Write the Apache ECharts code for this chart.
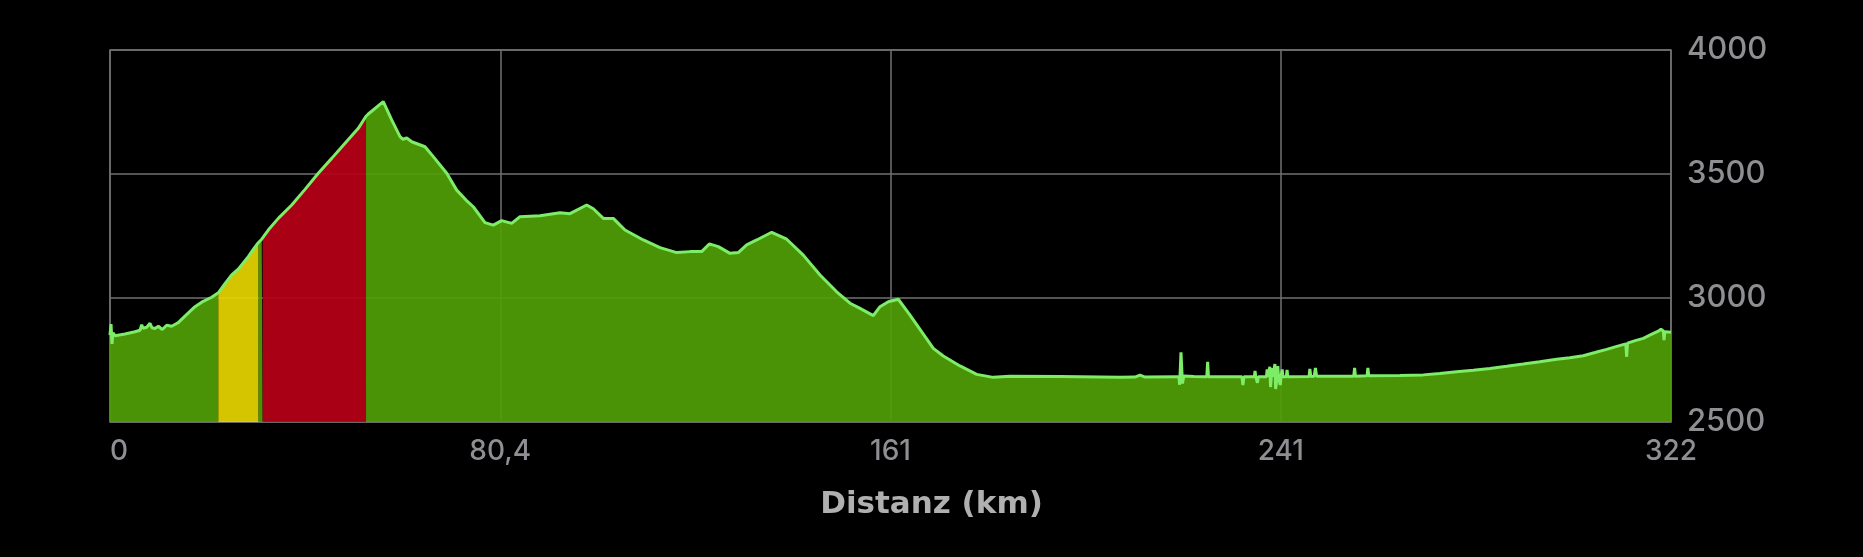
<!DOCTYPE html>
<html>
<head>
<meta charset="utf-8">
<script src="https://cdn.jsdelivr.net/npm/echarts@6/dist/echarts.min.js"></script>
<style>
html,body{margin:0;padding:0;background:#000;}
#chart{width:1863px;height:557px;}
</style>
</head>
<body>
<div id="chart"></div>
<script>
// Distance along route (km)
const distKm = [
  0, 0.21, 0.41, 0.62, 1.03, 3.09, 5.15, 6.19, 6.54, 6.80, 7.57, 8.25, 8.66, 9.28, 9.96, 10.78, 11.69, 12.72, 14.02,
  15.46, 17.53, 18.91, 20.97, 22.33, 23.71, 25.09, 26.45, 28.52, 29.69, 30.58, 31.28, 31.48, 32.64, 34.70, 37.47,
  40.21, 42.95, 45.71, 48.46, 51.20, 52.79, 53.26, 56.35, 58.08, 59.80, 60.42, 61.18, 62.21, 64.95, 66.66, 69.43,
  71.49, 73.41, 74.91, 77.32, 79.03, 80.76, 82.83, 84.54, 88.66, 92.79, 94.85, 98.29, 99.66, 101.72, 103.78, 105.16,
  106.19, 109.96, 113.41, 116.85, 119.59, 122.00, 123.57, 125.43, 127.84, 129.55, 131.28, 133.35, 136.44, 139.53,
  142.95, 146.40, 149.84, 152.58, 154.65, 157.39, 158.77, 160.48, 162.54, 164.96, 169.76, 171.82, 175.26, 178.71,
  182.13, 185.57, 195.88, 208.26, 211.35, 212.38, 213.41, 219.92,
  220.40, 220.56, 220.83, 221.14, 221.40, 221.66, 223.5,
  226.15, 226.33, 226.50, 230.0,
  233.40, 233.60, 233.80,
  235.95, 236.10, 236.25, 236.45, 236.60, 236.75, 236.90,
  238.45, 238.60, 238.75, 239.00, 239.15, 239.30, 239.45, 239.60, 239.75, 240.05, 240.20, 240.35,
  240.65, 240.80, 240.95, 241.15, 241.30, 241.45, 241.55, 241.70, 241.85, 242.55, 242.70, 242.85,
  247.25, 247.40, 247.60, 248.30, 248.55, 248.80,
  256.45, 256.63, 256.80, 259.20, 259.37, 259.55,
  265.99, 270.79, 274.20, 277.67, 281.10, 284.54, 288.00, 291.41, 294.80, 298.29, 301.00, 303.78,
  306.20, 308.60, 310.70, 312.55, 312.73, 312.90, 314.50, 316.16, 317.70, 319.25, 319.80, 320.28, 320.43, 320.60, 321.87
];
// Elevation (m)
const elevM = [
  2850, 2895, 2815, 2860, 2848, 2855, 2864, 2870, 2892, 2878, 2882, 2898, 2880, 2877, 2886, 2873, 2890, 2886, 2900,
  2927, 2965, 2983, 3003, 3021, 3058, 3093, 3116, 3167, 3200, 3223, 3237, 3240, 3274, 3321, 3375,
  3438, 3503, 3563, 3624, 3684, 3733, 3742, 3792, 3718, 3651, 3640, 3645, 3630, 3610, 3570, 3503,
  3435, 3395, 3368, 3304, 3294, 3312, 3301, 3328, 3332, 3344, 3340, 3375, 3360, 3321, 3321, 3294,
  3274, 3234, 3203, 3183, 3187, 3187, 3218, 3207, 3180, 3183, 3214, 3234, 3265, 3237,
  3173, 3093, 3025, 2979, 2958, 2929, 2965, 2985, 2995, 2931, 2797, 2766, 2726, 2692,
  2680, 2684, 2683, 2680, 2681, 2689, 2681, 2682,
  2682, 2650, 2781, 2655, 2685, 2682, 2683,
  2682, 2743, 2682, 2682,
  2682, 2649, 2682,
  2682, 2706, 2682, 2682, 2658, 2682, 2682,
  2682, 2712, 2682, 2682, 2723, 2641, 2682, 2717, 2682, 2682, 2734, 2633,
  2682, 2725, 2682, 2682, 2649, 2682, 2682, 2712, 2682, 2682, 2710, 2682,
  2683, 2714, 2683, 2684, 2718, 2684,
  2684, 2718, 2684, 2686, 2718, 2686,
  2687, 2690, 2696, 2703, 2709, 2716, 2725, 2734, 2743, 2753, 2759, 2767,
  2780, 2793, 2805, 2815, 2763, 2818, 2828, 2837, 2852, 2866, 2874, 2867, 2830, 2864, 2862
];
// Highlighted climb sections (km)
const zoneStart = [22.33, 31.48];
const zoneEnd = [30.58, 52.79];
// Axis ticks
const xTickValues = [0, 80.4675, 160.935, 241.4025, 321.87];
const xTickLabels = ['0', '80,4', '161', '241', '322'];
const yTicks = [2500, 3000, 3500, 4000];

const zoneFill = ['rgba(231,214,0,0.92)', 'rgba(184,0,24,0.92)'];

const pairs = distKm.map((d, i) => [d, elevM[i]]);
const insideZone = d => zoneStart.some((s, k) => d > s && d < zoneEnd[k]);
const greenData = pairs.map(p => insideZone(p[0]) ? [p[0], '-'] : p);
const zoneSeries = zoneStart.map((s, k) => ({
  type: 'line',
  data: pairs.map(p => (p[0] >= s && p[0] <= zoneEnd[k]) ? p : [p[0], '-']),
  showSymbol: false,
  lineStyle: { width: 0, opacity: 0 },
  areaStyle: { color: zoneFill[k], opacity: 1, origin: 'start' },
  z: 2,
  silent: true
}));

const xInterval = xTickValues[1] - xTickValues[0];
const chart = echarts.init(document.getElementById('chart'), null, { renderer: 'canvas' });
chart.setOption({
  backgroundColor: '#000000',
  animation: false,
  title: {
    text: 'Distanz (km)',
    left: 'center',
    top: 484,
    textStyle: { color: '#b0b0b0', fontSize: 31, fontWeight: 'bold', fontFamily: 'DejaVu Sans' }
  },
  grid: {
    left: 110, right: 192, top: 50, bottom: 135,
    show: true, borderColor: '#707070', borderWidth: 1.5, backgroundColor: 'transparent'
  },
  xAxis: {
    type: 'value',
    min: xTickValues[0],
    max: xTickValues[xTickValues.length - 1],
    interval: xInterval,
    axisLine: { show: false },
    axisTick: { show: false },
    splitLine: { show: true, lineStyle: { color: '#707070', width: 1.5 } },
    axisLabel: {
      color: '#8e8e93', fontSize: 28, fontWeight: 500, fontFamily: 'Inter', margin: 16,
      alignMinLabel: 'left',
      formatter: v => xTickLabels[Math.round(v / xInterval)]
    }
  },
  yAxis: {
    type: 'value',
    position: 'right',
    min: yTicks[0],
    max: yTicks[yTicks.length - 1],
    interval: yTicks[1] - yTicks[0],
    axisLine: { show: false },
    axisTick: { show: false },
    splitLine: { show: true, lineStyle: { color: '#707070', width: 1.5 } },
    axisLabel: { color: '#8e8e93', fontSize: 31, fontWeight: 500, fontFamily: 'Inter', margin: 16, formatter: v => String(v) }
  },
  series: [
    {
      type: 'line',
      data: greenData,
      showSymbol: false,
      lineStyle: { width: 0, opacity: 0 },
      areaStyle: { color: 'rgba(80,159,7,0.92)', opacity: 1, origin: 'start' },
      z: 2,
      silent: true
    },
    ...zoneSeries,
    {
      type: 'line',
      data: pairs,
      showSymbol: false,
      lineStyle: { color: '#7ded67', width: 3 },
      z: 3,
      silent: true
    }
  ]
});
</script>
</body>
</html>
